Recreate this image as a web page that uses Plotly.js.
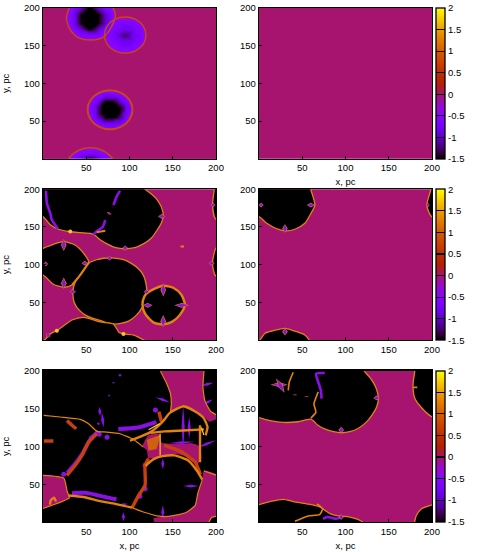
<!DOCTYPE html>
<html>
<head>
<meta charset="utf-8">
<script src="https://cdn.plot.ly/plotly-3.0.1.min.js"></script>
<style>html,body{margin:0;padding:0;background:#fff}#chart{width:480px;height:552px}</style>
</head>
<body>
<div id="chart"></div>
<script>
const tickValues = [50, 100, 150, 200];
const barValues = [-1.5, -1, -0.5, 0, 0.5, 1, 1.5, 2];
const barLabels = ["-1.5", "-1", "-0.5", "0", "0.5", "1", "1.5", "2"];

// top left panel: z read every 4 pc, rows from y=200 down to y=0, columns from x=0
const levelValues = { ".": 0, a: -0.5, b: -0.65, c: -0.8, d: -1, e: -1.25, f: -1.5 };
const panel1Rows = [
  ".......aabcdeffedcbaa",
  ".......aacdeffffedcbaa",
  ".......abceffffffedcaa",
  "......aabceffffffedcaa",
  "......aabceffffffedcaaaaaaaa",
  ".......abceffffffedcaabbbbbaa",
  ".......aacdeffffedcbabbcccbbaa",
  ".......aabcdeffedcbabbcccccbbaa",
  "........aabccdddcbbabccdddcbbaa",
  ".........aabbbbbbaabbcdeedccbaa",
  "..........aaaaaaaaaabccdddcbbaa",
  "...........aaaaaa.aabbcccccbbaa",
  "..................aaabbcccbbaa",
  "...................aaabbbbbaa",
  "....................aaaaaaaa",
  ".....................aaaaaa",
  "", "", "", "", "", "", "", "", "", "", "",
  ".................aaaaaa",
  "................aaaaaaaa",
  "...............aabcccbbaa",
  "..............abbcddddcbaa",
  ".............aabcefffedcbaa",
  ".............abcdfffffedcaa",
  ".............abceffffffecba",
  ".............abceffffffecba",
  ".............abceffffffdcaa",
  ".............aacdeffffedbaa",
  ".............aabcdeeeddcba",
  "..............aabccccccbaa",
  "...............aaabbbbaaa",
  ".................aaaaaa",
  "..................aaaa",
  "", "", "", "",
  "............aaaa",
  "..........aaaaaaaa",
  ".........aabbbbbbaa",
  "........aabccdddcbba",
  ".......aabcdeffedcbaa"
];
const panel1Rings = [
  [[27,186],[29,196],[33,204],[78,204],[82,198],[83.5,188],[80,177],[74,166],[68,160],[55,157.5],[42,160],[32,170],[27,186]],
  [[119,164],[116,176],[107,185],[95,188],[83,185],[74,176],[71,164],[74,152],[83,143],[95,140],[107,143],[116,152],[119,164]],
  [[26.5,-5],[30,1],[38,9],[47,13.5],[55,14.6],[63,13.5],[72,9],[80,1],[83.5,-5]]
];
const panel1ThickRing = [[103.5,65],[100,78],[90.5,87.5],[77.5,91],[64.5,87.5],[55,78],[51.5,65],[55,52],[64.5,42.5],[77.5,39],[90.5,42.5],[100,52],[103.5,65]];
// magenta around the discs: outer box, then the disc outlines as holes
const panel1Mask = [
  [-5,-5],[-5,205],[205,205],[205,-5],[-5,-5],[null,null],
  [33,204],[29,196],[27,186],[32,170],[42,160],[55,157.5],[68,160],[73,163],[74,152],[83,143],[95,140],[107,143],[116,152],[119,164],[116,176],[107,185],[95,188],[88,186.5],[83,184],[83.5,190],[82,198],[78,204],[33,204],[null,null],
  [103.5,65],[100,78],[90.5,87.5],[77.5,91],[64.5,87.5],[55,78],[51.5,65],[55,52],[64.5,42.5],[77.5,39],[90.5,42.5],[100,52],[103.5,65],[null,null],
  [83.5,-5],[80,1],[72,9],[63,13.5],[55,14.6],[47,13.5],[38,9],[30,1],[26.5,-5],[83.5,-5]
];

// flat background value of each panel
const backgroundValues = [0, 0, 0, 0, -1.5, 0];

// middle left panel
const panel3Blobs = [
  [[-5,166],[0.8,163],[8.5,153],[18,147],[30,144],[43,142.5],[55,141.5],[60,139],[66,133],[74,127.5],[84,122.5],[95,121],[106,122.5],[116,127.5],[125,135],[132,146],[137,156],[139,165],[137,176],[132,186],[125,194],[118,200],[114,205],[-5,205]],
  [[-5,120],[0.8,122],[12,127],[24,130.5],[37,126],[47,115],[53,103],[43,86],[33.5,73],[24,70],[12,74],[2.7,84],[-5,90]],
  [[34.6,66],[37,76],[42,85],[53,102],[62,106.5],[70,108.5],[78,109],[87,108],[95,106],[103,101],[110,95],[115,88],[118,80],[120,66],[118.5,55],[115,44],[108,33],[99,25],[90,22],[83,21],[74,23],[66,26],[57,29],[49,33],[40,42],[36,50],[34.5,60],[34.6,66]],
  [[-3,-5],[2.7,1],[8.5,8],[18,14],[33.5,26.5],[47,30],[66,24],[81.5,21],[88,10],[94,8],[105,6.5],[124,-5]],
  [[198,205],[198,200],[196,179],[199,161.5],[205,158],[205,205]],
  [[205,124],[200,122],[196,102],[199,86],[205,84]]
];
const panel3ThickBlobs = [
  [[120,62],[130,68.6],[139,72],[151,69],[160,60],[164,46.5],[158,33],[149,24],[139,21],[128,23],[118,35],[115,46.5],[117,57.5],[120,62]]
];
const panel3Purple = [
  [[95,125],[95,119]], [[133.5,164],[141,164]], [[24,133],[24,119]], [[24,82],[24,68.6]],
  [[1,101],[5.4,101]], [[45,102],[51.5,102]], [[77,111],[77,106]], [[31,64],[37.5,64]],
  [[117,64],[122,64]], [[139,74],[139,59]], [[139,32],[139,18]], [[116,46],[126,46]],
  [[153,46],[168,46]], [[194,179],[199,179]], [[192,102],[198,102]],
  [[3.5,198],[4.6,181],[8.5,168],[10,160],[17,148]],
  [[89,198],[85,190],[81.5,179]], [[77,169],[76,167]],
  [[72,159],[69,150],[64,146],[58,140]], [[4,8],[8,4]]
];
const panel3Orange = [
  [[53,103],[43,86],[33.5,73]], [[159,124],[163,124]], [[72,145],[62,143]]
];
const panel3Sparks = [[31.5,144],[16,12.4],[93,8]];

// middle right panel
const panel4Blobs = [
  [[-5,166],[1,163],[9,155],[20,148],[30,145],[41.5,147],[53,155],[60,168],[64.6,179],[60,199],[58,205],[-5,205]],
  [[-5,-5],[1,0],[7,9],[16.5,12.4],[30,15.5],[43.5,11],[53,6.6],[58,0],[60,-5]],
  [[205,205],[198.5,205],[198.5,199],[194,179],[198.5,165],[205,160]]
];
const panel4Purple = [
  [[30,153],[30,143]], [[30,15.5],[30,6.6]], [[0,179],[5,179]], [[56,179],[64,179]], [[193.5,179],[197,179]]
];

// bottom left panel, black background with magenta pockets
const panel5Magenta = [
  [[135.5,205],[136.3,198.5],[142.3,184.8],[147.5,169],[148.3,155.2],[147.5,146.1],[160.1,154.3],[164.2,154.3],[176.1,146.1],[186,139.3],[192,132.5],[205,139.3],[194,146],[187.3,159.8],[184.9,178],[186,198.5],[186.5,205]],
  [[115,100],[122,115],[135,116],[137,105],[150,103],[172,104],[181,100],[183,85],[178,76],[172,84],[154.6,90],[139,88],[122,84],[120,95],[115,100]],
  [[-5,62],[24,58],[28,40],[30.5,32],[-5,16]],
  [[186,67.5],[205,60],[205,8],[195,6],[190,-5],[130,-5],[128,5],[140,7],[152,8.7],[166,13],[176,22],[179,38],[184,54],[186,67.5]]
];
const panel5Edges = [
  [[135.5,205],[136.3,198.5],[142.3,184.8],[147.5,169],[148.3,155.2],[147.5,146.1]],
  [[186.5,205],[186,198.5],[184.9,178],[187.3,159.8],[194,146],[205,139.3]],
  [[-5,62],[24,58],[28,40],[30.5,32],[-5,16]],
  [[186,67.5],[205,60]],
  [[205,8],[195,6],[190,-5]],
  [[0.8,141],[20,138.8],[43,135.7],[52.7,130],[62.3,119.8],[73.8,118.9],[89,116.7],[104.6,109],[116,99]],
  [[184.2,56],[179,38],[176,22],[166,13],[152,8.7],[140,7],[131.5,8]],
  [[103,18.9],[116,13.2],[131.5,8]]
];
const panel5Purple = [
  [[64,120],[54,108],[46,91],[38,78],[28,65]],
  [[33.5,38],[50,38.5],[70,33.5],[78,31.5],[85,30]],
  [[87,123],[110,125],[131,132]],
  [[145,104],[175,106]],
  [[130,165],[147,158]],
  [[182,180],[197,184]],
  [[185,155],[196,162]],
  [[178,98],[200,108]],
  [[162,155],[162,96]],
  [[169,139],[169,110]],
  [[89,196],[89,192]], [[81.5,185],[81.5,183]], [[76.5,168],[76.5,166]],
  [[65.4,152],[66,140]], [[64,132],[64,128]], [[68,145],[70,125]],
  [[93,13],[93,1]], [[138.5,22],[138.5,4]], [[138.5,84],[138.5,70]], [[162,47.5],[180,47.5]],
  [[98,24],[88,22]]
];
const panel5Blots = [[118,75],[118,44],[112,34],[24,63],[56,111],[65,116],[74,112],[130,148]];
const panel5RedVeins = [
  [[62.3,116.7],[52.7,105.7],[45,88],[37.3,74.9],[27.7,61.7]],
  [[27.7,134],[33.5,128],[38.5,123.3]],
  [[103,18.9],[110.4,35],[118,48.5],[118,75],[122,83.7]],
  [[140,101.7],[160,92.8],[176,79],[182,63]],
  [[134,146],[137,132]],
  [[1,107],[12,107]]
];
const panel5OrangeVeins = [
  [[29.6,35],[47,33],[66,27.5],[83.5,24],[103,18.9]],
  [[118.4,74.4],[128.3,83.5],[138.3,87],[152.2,88],[168.2,81],[178.2,67.5],[184.2,56]],
  [[100.5,107.4],[124.3,118.8],[138.3,132.5],[146.3,144],[162.2,153],[176,146],[186,137],[190.2,125.6],[188,114.5]],
  [[124.3,117.8],[140.2,119.8],[162.2,121],[186,122.4]],
  [[181.5,128],[181.5,79]],
  [[8,23],[9,29],[13,32],[15,27]]
];
const panel5YellowVeins = [
  [[135.4,117],[135.4,88]],
  [[122,122],[135,130]],
  [[183,125],[186,115]]
];
const panel5Patch = [[120,108],[135,114],[131,97],[122,95]];

// bottom right panel
const panel6Blobs = [
  [[-5,140],[0,138],[12.7,134],[28,131.6],[45,132.5],[60,136],[68,128],[76,123],[86,119.5],[95,118],[105,119.5],[115,124],[124,132],[131,142],[136,152],[138,164],[135,178],[129,190],[122,199],[118,205],[-5,205]],
  [[180,205],[180,199],[178,181],[180,164],[188,151],[198.5,140],[205,137],[205,205]],
  [[-5,21],[0,23],[12.7,27],[28,30],[39.6,27],[55,24],[70,20],[82,11],[91.6,8],[105,6.6],[118.5,1],[122,-5],[-5,-5]],
  [[178,-5],[180,1],[182,9],[188,17.5],[198.5,22],[205,24],[205,-5]]
];
const panel6Purple = [
  [[76,197],[66,196],[68.5,185],[71.5,174],[72.3,163]],
  [[14.6,181.5],[32,181.5]], [[20.4,188.5],[29,172]],
  [[41.5,168.5],[41.5,167.5]], [[55,166.5],[55,165.5]],
  [[95,125.5],[95,118]], [[132.7,164],[139,164]],
  [[74,4],[79,6.6],[88,4.4],[95,6]], [[95,9.7],[95,3.5]]
];
const panel6Orange = [
  [[60,137.4],[65.8,145],[63.5,156],[68.5,172]],
  [[39.6,198],[35,185],[33.8,174]],
  [[178,178],[183,178]],
  [[41.5,1],[57,8],[70,9.7],[73.5,17.6],[67,24]]
];

const BLACK = "#000000";
const MAGENTA = "#a7146e";
const PURPLE = "#8a10e6";
const RED = "#c8400f";
const ORANGE = "#e2820f";
const YELLOW = "#f8c820";

// gnuplot palette 7,5,15
const palette = [];
for (let i = 0; i <= 40; i++) {
  const t = i / 40;
  const r = Math.round(255 * Math.sqrt(t));
  const g = Math.round(255 * t * t * t);
  const b = Math.round(255 * Math.max(0, Math.sin(2 * Math.PI * t)));
  palette.push([t, `rgb(${r},${g},${b})`]);
}

function colorBar(top, bottom) {
  return {
    x: 436 / 480, xanchor: "left", xpad: 0, ypad: 0,
    y: 1 - top / 552, yanchor: "top",
    len: (bottom - top) / 552, lenmode: "fraction",
    thickness: 9, thicknessmode: "pixels",
    outlinecolor: "#000", outlinewidth: 1.3,
    ticks: "inside", ticklen: 9, tickcolor: "#000", tickwidth: 1.2,
    tickmode: "array", tickvals: barValues, ticktext: barLabels,
    tickfont: { family: "Liberation Sans", size: 9.5, color: "#000" }
  };
}

function flatHeatmap(n, bar) {
  const v = backgroundValues[n - 1];
  return {
    type: "heatmap", x: [0, 200], y: [0, 200], z: [[v, v], [v, v]],
    xaxis: "x" + (n > 1 ? n : ""), yaxis: "y" + (n > 1 ? n : ""),
    zmin: -1.5, zmax: 2, colorscale: palette, hoverinfo: "skip",
    showscale: !!bar, colorbar: bar
  };
}

function shape(n, pts, fill, line, width, smooth) {
  const t = {
    type: "scatter", mode: "lines",
    x: pts.map((p) => p[0]), y: pts.map((p) => p[1]),
    xaxis: "x" + (n > 1 ? n : ""), yaxis: "y" + (n > 1 ? n : ""),
    line: { color: line || fill, width: width, shape: smooth ? "spline" : "linear", smoothing: smooth || 0 },
    hoverinfo: "skip", showlegend: false
  };
  if (fill) {
    t.fill = "toself";
    t.fillcolor = fill;
  }
  return t;
}

// two read end points give a thin pointed patch, longer lists a stroke
function purpleMark(n, pts, width, rim, halfWidth) {
  if (pts.length > 2) return [shape(n, pts, null, PURPLE, width, 0.6)];
  const [a, b] = pts;
  const mx = (a[0] + b[0]) / 2, my = (a[1] + b[1]) / 2;
  const len = Math.hypot(b[0] - a[0], b[1] - a[1]) || 1;
  const nx = (a[1] - b[1]) / len, ny = (b[0] - a[0]) / len;
  const patch = (grow, w) => {
    const ax = mx + (a[0] - mx) * grow, ay = my + (a[1] - my) * grow;
    const bx = mx + (b[0] - mx) * grow, by = my + (b[1] - my) * grow;
    return [[ax, ay], [mx + nx * w, my + ny * w], [bx, by], [mx - nx * w, my - ny * w], [ax, ay]];
  };
  const marks = [shape(n, patch(1, halfWidth), PURPLE, PURPLE, 0)];
  if (rim) marks.unshift(shape(n, patch(1.15, halfWidth + 1), ORANGE, ORANGE, 0));
  return marks;
}

function sparks(n, pts, color, size) {
  return {
    type: "scatter", mode: "markers",
    x: pts.map((p) => p[0]), y: pts.map((p) => p[1]),
    xaxis: "x" + (n > 1 ? n : ""), yaxis: "y" + (n > 1 ? n : ""),
    marker: { color: color, size: size }, hoverinfo: "skip", showlegend: false
  };
}

const panel1Z = panel1Rows.slice().reverse().map((row) =>
  row.padEnd(51, ".").split("").map((c) => levelValues[c])
);
const gridX = panel1Z[0].map((v, i) => i * 4);
const gridY = panel1Z.map((v, j) => j * 4);

const traces = [];
traces.push({
  type: "heatmap", x: gridX, y: gridY, z: panel1Z, zsmooth: "best",
  zmin: -1.5, zmax: 2, colorscale: palette, showscale: false, hoverinfo: "skip"
});
traces.push(shape(1, panel1Mask, MAGENTA, MAGENTA, 0, 0.8));
panel1Rings.forEach((p) => traces.push(shape(1, p, null, "#c8480f", 1.4, 0.8)));
traces.push(shape(1, panel1ThickRing, null, "#c8480f", 2, 0.8));

traces.push(flatHeatmap(2, colorBar(8, 158.7)));

traces.push(flatHeatmap(3));
panel3Blobs.forEach((p) => traces.push(shape(3, p, BLACK, ORANGE, 1.3, 0.7)));
panel3ThickBlobs.forEach((p) => traces.push(shape(3, p, BLACK, ORANGE, 2.4, 0.7)));
panel3Purple.forEach((p) => traces.push(...purpleMark(3, p, 2.6, true, 2.2)));
panel3Orange.forEach((p) => traces.push(shape(3, p, null, ORANGE, 2, 0.6)));
traces.push(sparks(3, panel3Sparks, YELLOW, 4));

traces.push(flatHeatmap(4, colorBar(189.3, 340)));
panel4Blobs.forEach((p) => traces.push(shape(4, p, BLACK, ORANGE, 1.3, 0.7)));
panel4Purple.forEach((p) => traces.push(...purpleMark(4, p, 2.6, true, 2.2)));

traces.push(flatHeatmap(5));
panel5Magenta.forEach((p) => traces.push(shape(5, p, MAGENTA, MAGENTA, 0, 0.5)));
traces.push(shape(5, panel5Patch, "#d0600f", "#d0600f", 1));
panel5Purple.forEach((p) => traces.push(...purpleMark(5, p, 4, false, 1.8)));
traces.push(sparks(5, panel5Blots, PURPLE, 5));
panel5RedVeins.forEach((p) => traces.push(shape(5, p, null, RED, 3.4, 0.5)));
panel5Edges.forEach((p) => traces.push(shape(5, p, null, ORANGE, 1.2, 0.5)));
panel5OrangeVeins.forEach((p) => traces.push(shape(5, p, null, ORANGE, 2.4, 0.5)));
panel5YellowVeins.forEach((p) => traces.push(shape(5, p, null, YELLOW, 1.2)));

traces.push(flatHeatmap(6, colorBar(370.7, 522)));
panel6Blobs.forEach((p) => traces.push(shape(6, p, BLACK, ORANGE, 1.3, 0.7)));
panel6Purple.forEach((p) => traces.push(...purpleMark(6, p, 2.6, true, 2.2)));
panel6Orange.forEach((p) => traces.push(shape(6, p, null, ORANGE, 1.6, 0.5)));

const tickFont = { family: "Liberation Sans", size: 9.5, color: "#000" };
const titleFont = { family: "Liberation Sans", size: 9.5, color: "#000" };

function xAxis(left, right, anchor, title) {
  const a = {
    domain: [left / 480, right / 480], range: [0, 200], anchor: anchor,
    tickmode: "array", tickvals: tickValues, ticks: "inside", ticklen: 3,
    tickcolor: "#000", tickfont: tickFont, showgrid: false, zeroline: false,
    showline: true, linecolor: "#000", linewidth: 1.3, mirror: true
  };
  if (title) a.title = { text: "x, pc", font: titleFont, standoff: 6 };
  return a;
}

function yAxis(top, bottom, anchor, title) {
  const a = {
    domain: [1 - bottom / 552, 1 - top / 552], range: [0, 200], anchor: anchor,
    tickmode: "array", tickvals: tickValues, ticks: "inside", ticklen: 3,
    tickcolor: "#000", tickfont: tickFont, showgrid: false, zeroline: false,
    showline: true, linecolor: "#000", linewidth: 1.3, mirror: true
  };
  if (title) a.title = { text: "y, pc", font: titleFont, standoff: 14 };
  return a;
}

const layout = {
  width: 480, height: 552,
  margin: { l: 0, r: 0, t: 0, b: 0, autoexpand: false },
  paper_bgcolor: "#fff", plot_bgcolor: "#fff", showlegend: false,
  xaxis: xAxis(43, 216, "y"),
  yaxis: yAxis(8, 158.7, "x", true),
  xaxis2: xAxis(259, 432, "y2", true),
  yaxis2: yAxis(8, 158.7, "x2"),
  xaxis3: xAxis(43, 216, "y3"),
  yaxis3: yAxis(189.3, 340, "x3", true),
  xaxis4: xAxis(259, 432, "y4"),
  yaxis4: yAxis(189.3, 340, "x4"),
  xaxis5: xAxis(43, 216, "y5", true),
  yaxis5: yAxis(370.7, 522, "x5", true),
  xaxis6: xAxis(259, 432, "y6", true),
  yaxis6: yAxis(370.7, 522, "x6")
};

Plotly.newPlot("chart", traces, layout, { displayModeBar: false, staticPlot: true });
</script>
</body>
</html>
